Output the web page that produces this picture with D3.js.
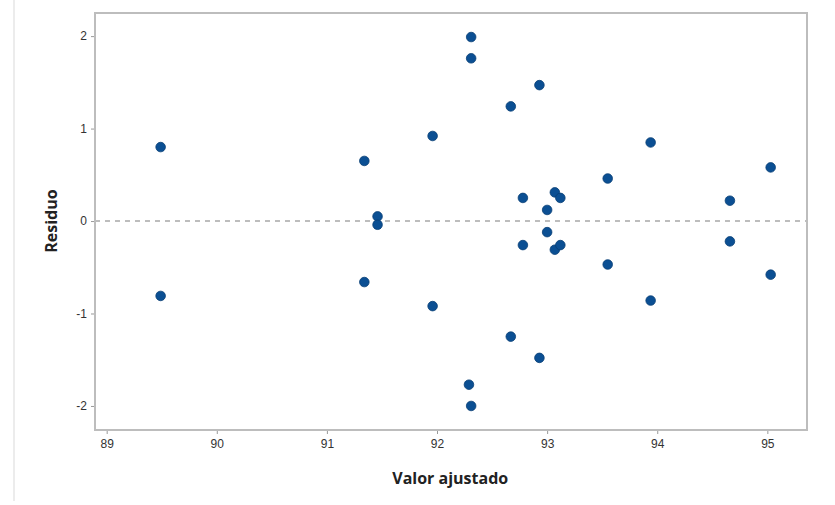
<!DOCTYPE html>
<html>
<head>
<meta charset="utf-8">
<script src="https://cdn.jsdelivr.net/npm/d3@7"></script>
<style>
  body { margin: 0; background: #fff; }
  svg { display: block; font-family: "Open Sans", "Noto Sans", sans-serif; }
</style>
</head>
<body>
<div id="chart"></div>
<script>
// fitted values (x) and residuals (y)
const fitted = [89.49, 89.49, 91.34, 91.34, 91.46, 91.46, 91.96, 91.96,
  92.31, 92.31, 92.29, 92.31, 92.67, 92.67, 92.93, 92.93,
  92.78, 92.78, 93.00, 93.00, 93.07, 93.12, 93.07, 93.12,
  93.55, 93.55, 93.94, 93.94, 94.66, 94.66, 95.03, 95.03];
const residuals = [0.80, -0.81, 0.65, -0.66, 0.05, -0.04, 0.92, -0.92,
  1.99, 1.76, -1.77, -2.00, 1.24, -1.25, 1.47, -1.48,
  0.25, -0.26, 0.12, -0.12, 0.31, 0.25, -0.31, -0.26,
  0.46, -0.47, 0.85, -0.86, 0.22, -0.22, 0.58, -0.58];
const xTicks = [89, 90, 91, 92, 93, 94, 95];
const yTicks = [-2, -1, 0, 1, 2];

const W = 835, H = 505;
const margin = { top: 13, right: 28, bottom: 75, left: 95 };
const width = W - margin.left - margin.right;
const height = H - margin.top - margin.bottom;

const svg = d3.select("#chart").append("svg")
  .attr("width", W)
  .attr("height", H);

// faint panel border on the left
svg.append("line")
  .attr("x1", 14).attr("x2", 14)
  .attr("y1", 0).attr("y2", 501)
  .attr("stroke", "#ececec")
  .attr("stroke-width", 2);

const g = svg.append("g")
  .attr("transform", `translate(${margin.left},${margin.top})`);

const x = d3.scaleLinear()
  .domain([88.894, 95.36])
  .range([0, width]);

const y = d3.scaleLinear()
  .domain([-2.26, 2.25])
  .range([height, 0]);

// reference line at 0
g.append("line")
  .attr("x1", 0).attr("x2", width)
  .attr("y1", y(0)).attr("y2", y(0))
  .attr("stroke", "#a8a8a8")
  .attr("stroke-width", 1.5)
  .attr("stroke-dasharray", "5,5");

// axes (plain hyphen for negatives, like the original)
const fmt = d => String(d);

const xAxis = g.append("g")
  .attr("transform", `translate(0,${height})`)
  .call(d3.axisBottom(x).tickValues(xTicks).tickSize(4).tickPadding(5).tickFormat(fmt));

const yAxis = g.append("g")
  .call(d3.axisLeft(y).tickValues(yTicks).tickSize(4).tickPadding(4).tickFormat(fmt));

[xAxis, yAxis].forEach(a => {
  a.select(".domain").remove();
  a.selectAll(".tick line").attr("stroke", "#999");
  a.selectAll(".tick text")
    .attr("fill", "#333")
    .style("font-size", "12px");
});

// frame
g.append("rect")
  .attr("width", width)
  .attr("height", height)
  .attr("fill", "none")
  .attr("stroke", "#bdbdbd")
  .attr("stroke-width", 2);

// points
g.selectAll(".dot")
  .data(fitted)
  .enter().append("circle")
  .attr("class", "dot")
  .attr("cx", d => x(d))
  .attr("cy", (d, i) => y(residuals[i]))
  .attr("r", 4.8)
  .attr("fill", "#0b4f93")
  .attr("stroke", "#093f75")
  .attr("stroke-width", 0.8);

// titles
svg.append("text")
  .attr("x", margin.left + x(92.12))
  .attr("y", 484)
  .attr("text-anchor", "middle")
  .style("font-size", "16px")
  .style("font-weight", "bold")
  .attr("fill", "#222")
  .text("Valor ajustado");

svg.append("text")
  .attr("transform", "rotate(-90)")
  .attr("x", -(margin.top + y(0)))
  .attr("y", 57)
  .attr("text-anchor", "middle")
  .style("font-size", "16px")
  .style("font-weight", "bold")
  .attr("fill", "#222")
  .text("Residuo");
</script>
</body>
</html>
